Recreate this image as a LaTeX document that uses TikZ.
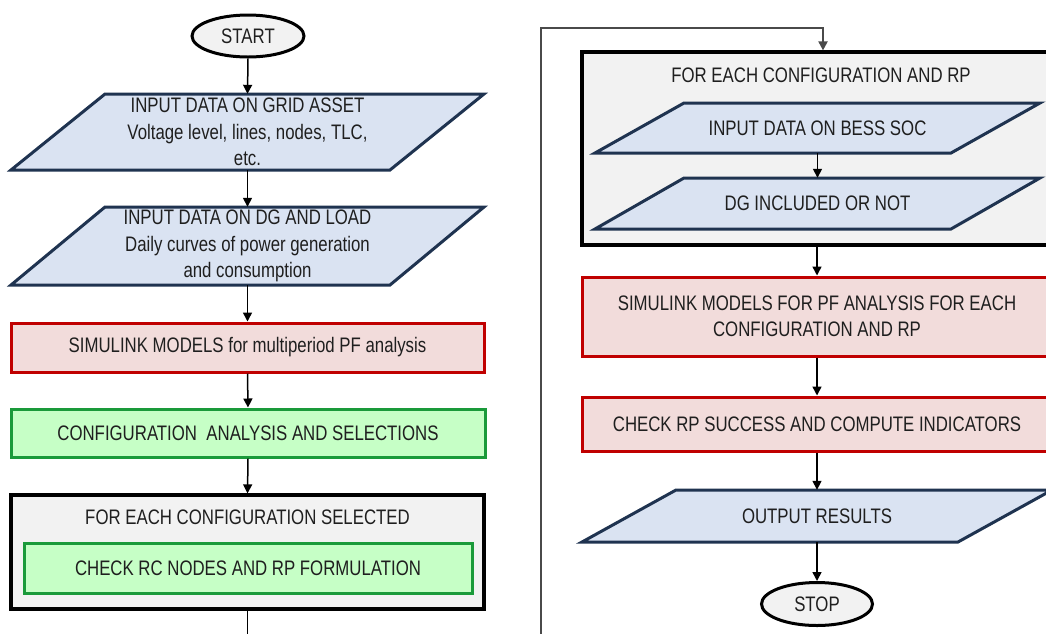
\documentclass[tikz,border=0pt]{standalone}
\usepackage{fontspec}
\setmainfont{Liberation Sans}[FakeStretch=0.8]
\usetikzlibrary{positioning,shapes.geometric,arrows.meta}

\definecolor{ioblue}{HTML}{DAE3F2}
\definecolor{ioedge}{HTML}{1F3350}
\definecolor{simred}{HTML}{C00000}
\definecolor{simfill}{HTML}{F2DCDB}
\definecolor{chkgreen}{HTML}{1A9A3A}
\definecolor{chkfill}{HTML}{C6FFC6}
\definecolor{loopgray}{HTML}{F2F2F2}
\definecolor{wire}{HTML}{4A4A4A}

\tikzset{
  every node/.style={font=\fontsize{21}{26.5}\selectfont, align=center, text=black!88},
  term/.style={ellipse, draw, line width=3pt, fill=loopgray, minimum width=112pt, minimum height=42pt, inner sep=0pt},
  iotext/.style={inner sep=0pt},
  iofill/.style={draw=ioedge, fill=ioblue, line width=3pt},
  simbox/.style={draw=simred, fill=simfill, line width=3pt, minimum width=473pt},
  chkbox/.style={draw=chkgreen, fill=chkfill, line width=3pt},
  loopbox/.style={draw, fill=loopgray, line width=3.2pt},
  flow/.style={->, line width=1.5pt},
  wireflow/.style={->, draw=wire, line width=2pt},
  >={Triangle[length=9pt,width=9pt]}
}

% input/output parallelogram: name, x, y, half width, half height, half slant, text
\newcommand{\iobox}[7]{%
  \draw[iofill] (#2-#4+#6,#3-#5) -- (#2+#4+#6,#3-#5) -- (#2+#4-#6,#3+#5) -- (#2-#4-#6,#3+#5) -- cycle;
  \node[iotext, minimum width=2*#4pt, minimum height=2*#5pt] (#1) at (#2,#3) {#7};}

\begin{document}
\begin{tikzpicture}[x=1pt, y=-1pt]
  \useasboundingbox (0,0) rectangle (1046,633);

  % left column
  \node[term] (start) at (248,36) {START};
  \iobox{grid}{247.5}{132}{189.5}{38}{47}{INPUT DATA ON GRID ASSET\\Voltage level, lines, nodes, TLC,\\etc.}
  \iobox{dgload}{247.5}{246}{189.5}{39}{47}{INPUT DATA ON DG AND LOAD\\Daily curves of power generation\\and consumption}
  \node[simbox, minimum height=49pt] (pfmulti) at (247.5,347.5) {SIMULINK MODELS for multiperiod PF analysis};
  \node[chkbox, minimum width=474pt, minimum height=48pt] (confsel) at (248,433) {CONFIGURATION\ \ ANALYSIS AND SELECTIONS};
  \node[loopbox, minimum width=473pt, minimum height=114pt] (forsel) at (247.5,552) {};
  \node (forseltitle) at (247.5,517) {FOR EACH CONFIGURATION SELECTED};
  \node[chkbox, minimum width=448pt, minimum height=50pt] (rcnodes) at (248,568) {CHECK RC NODES AND RP FORMULATION};

  \draw[flow] (start.south) -- (grid.north);
  \draw[flow] (grid.south) -- (dgload.north);
  \draw[flow] (dgload.south) -- (pfmulti.north);
  \draw[flow] (pfmulti.south) -- (confsel.north);
  \draw[flow] (confsel.south) -- (forsel.north);
  \coordinate (exit) at (247.5,650);
  \draw[line width=1.5pt] (forsel.south) -- (exit);

  % right column
  \node[loopbox, minimum width=470pt, minimum height=193pt] (forrp) at (817,148.5) {};
  \node (forrptitle) at (821,75) {FOR EACH CONFIGURATION AND RP};
  \iobox{bess}{817.5}{128}{178}{25}{44.5}{INPUT DATA ON BESS SOC}
  \iobox{dgin}{817.5}{203.5}{178}{25.5}{44.5}{DG INCLUDED OR NOT}
  \node[simbox, minimum width=470pt, minimum height=79pt] (pfrp) at (817,316.5) {SIMULINK MODELS FOR PF ANALYSIS FOR EACH\\CONFIGURATION AND RP};
  \node[simbox, minimum width=470pt, minimum height=54pt] (rpcheck) at (817,424) {CHECK RP SUCCESS AND COMPUTE INDICATORS};
  \iobox{results}{817}{516}{188}{26}{47}{OUTPUT RESULTS}
  \node[term, minimum width=111pt, minimum height=43pt] (stop) at (817,604) {STOP};

  \draw[flow] (bess.south) -- (dgin.north);
  \draw[flow] (forrp.south) -- (pfrp.north);
  \draw[flow] (pfrp.south) -- (rpcheck.north);
  \draw[flow] (rpcheck.south) -- (results.north);
  \draw[flow] (results.south) -- (stop.north);

  % loop back into the RP block
  \coordinate (entry) at (541,650);
  \coordinate (loopturn) at (823,28);
  \draw[wireflow] (entry) |- (loopturn) -- (loopturn |- forrp.north);
\end{tikzpicture}
\end{document}
